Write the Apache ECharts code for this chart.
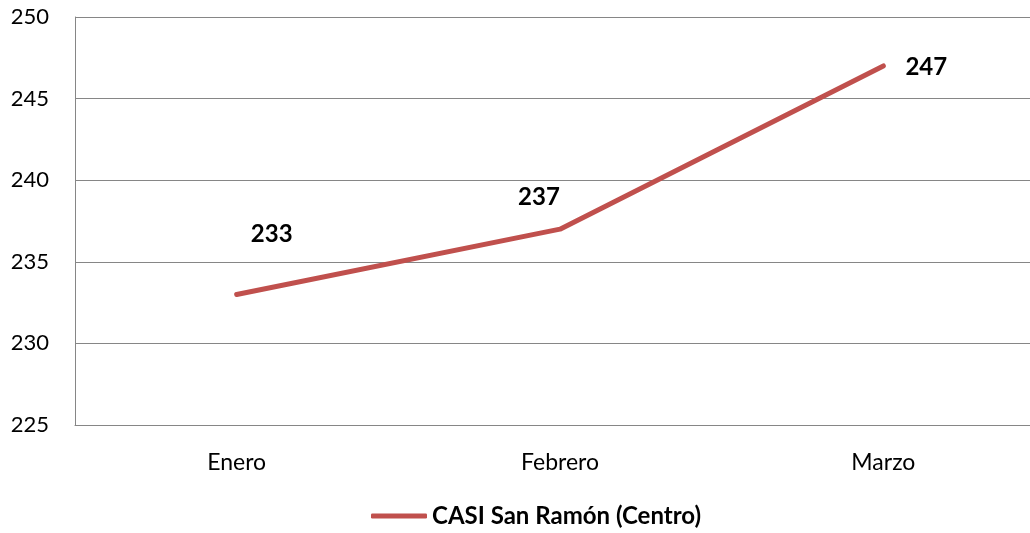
<!DOCTYPE html>
<html>
<head>
<meta charset="utf-8">
<script src="https://cdn.jsdelivr.net/npm/echarts@6/dist/echarts.min.js"></script>
<style>
  html, body { margin: 0; padding: 0; background: #ffffff; overflow: hidden; }
  #wrap { width: 1030px; height: 533px; overflow: hidden; }
  /* plot runs past the right edge of the view */
  #chart { width: 1050px; height: 533px; }
</style>
</head>
<body>
<div id="wrap"><div id="chart"></div></div>
<script>
// Monthly values for the centre
const categories = ['Enero', 'Febrero', 'Marzo'];
const seriesName = 'CASI San Ramón (Centro)';
const values = [233, 237, 247];
const yTicks = { min: 225, max: 250, step: 5 };

// Hand-placed label offsets (x, y) around each point
const labelOffsets = [[35, -60], [-21, -32], [43, 1]];

const FONT = 'Lato';
const GRID_COLOR = '#868686';
const LINE_COLOR = '#C0504D';

const chart = echarts.init(document.getElementById('chart'), null, { renderer: 'canvas' });

chart.setOption({
  animation: false,
  backgroundColor: '#ffffff',
  textStyle: { fontFamily: FONT },
  grid: { left: 75, top: 17, width: 970, height: 408, containLabel: false },
  legend: {
    data: [{ name: seriesName, icon: 'roundRect' }],
    left: 366,
    top: 499,
    itemWidth: 56,
    itemHeight: 5,
    itemGap: 5,
    itemStyle: { color: LINE_COLOR },
    textStyle: { fontFamily: FONT, fontSize: 24, fontWeight: 'bold', color: '#000000' }
  },
  xAxis: {
    type: 'category',
    data: categories,
    boundaryGap: true,
    axisLine: { show: true, lineStyle: { color: GRID_COLOR, width: 1 } },
    axisTick: { show: false },
    axisLabel: { fontFamily: FONT, fontSize: 23, color: '#000000', margin: 26 }
  },
  yAxis: {
    type: 'value',
    min: yTicks.min,
    max: yTicks.max,
    interval: yTicks.step,
    axisLine: { show: true, lineStyle: { color: GRID_COLOR, width: 1 } },
    axisTick: { show: false },
    splitLine: { show: true, lineStyle: { color: GRID_COLOR, width: 1 } },
    axisLabel: { fontFamily: FONT, fontSize: 22, color: '#000000', margin: 26 }
  },
  series: [{
    name: seriesName,
    type: 'line',
    data: values.map((v, i) => ({
      value: v,
      label: { offset: labelOffsets[i] }
    })),
    showSymbol: true,
    symbol: 'circle',
    symbolSize: 0,
    lineStyle: { color: LINE_COLOR, width: 5, cap: 'round', join: 'round' },
    itemStyle: { color: LINE_COLOR },
    label: {
      show: true,
      position: 'inside',
      align: 'center',
      verticalAlign: 'middle',
      fontFamily: FONT,
      fontSize: 24,
      fontWeight: 'bold',
      color: '#000000'
    }
  }]
});
</script>
</body>
</html>
